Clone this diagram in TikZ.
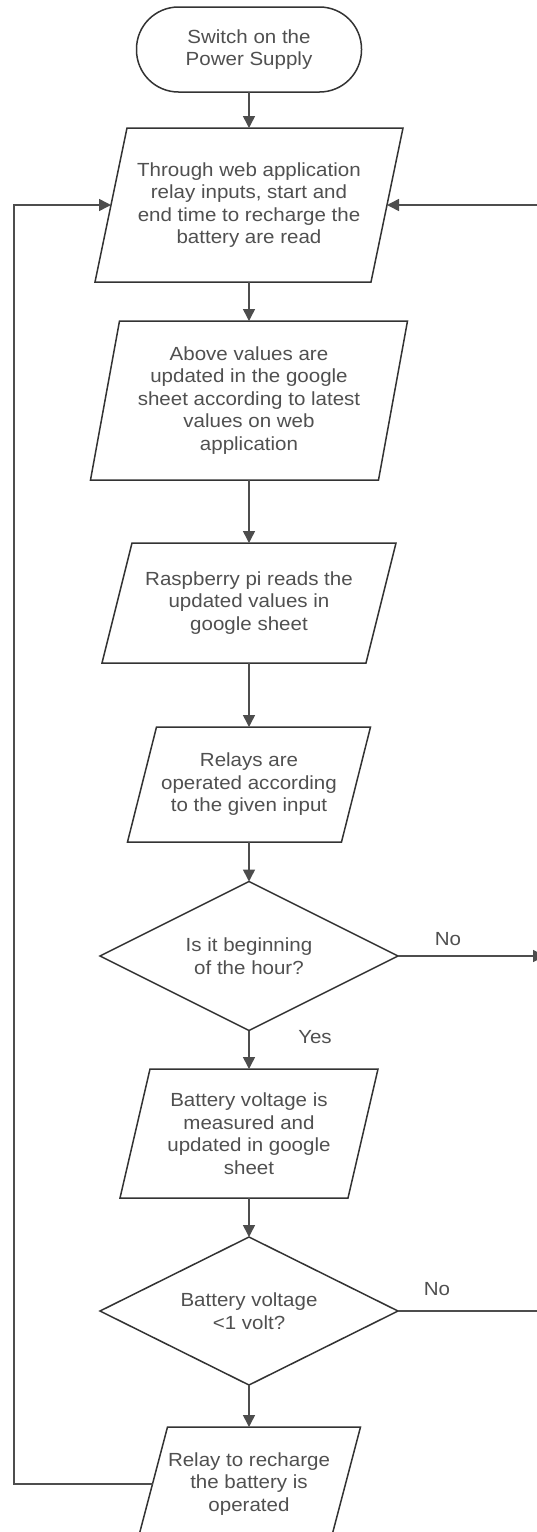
\documentclass[tikz,border=0pt]{standalone}
\usepackage{fontspec}
\setmainfont{Liberation Sans}[FakeStretch=1.08]
\usetikzlibrary{arrows.meta,calc}
\definecolor{txtc}{HTML}{505050}
\definecolor{shpc}{HTML}{333333}
\definecolor{linc}{HTML}{4D4D4D}
\tikzset{
  txt/.style={inner sep=0pt, outer sep=0pt, align=center, text=txtc, font=\fontsize{19}{22.5}\selectfont},
  shp/.style={draw=shpc, line width=1.5pt, line join=miter},
  conn/.style={draw=linc, line width=1.5pt, -{Triangle[length=12pt,width=12pt]}},
  lbl/.style={text=txtc, font=\fontsize{19}{22.5}\selectfont, inner sep=0pt},
}
% parallelogram: name, cx, cy, width, height, slant, text
\newcommand\pgram[7]{%
  \node[txt, minimum width=#4pt, minimum height=#5pt] (#1) at (#2,#3) {#7};
  \draw[shp] ([xshift=0.5*#6pt]#1.north west) -- ([xshift=0.5*#6pt]#1.north east)
    -- ([xshift=-0.5*#6pt]#1.south east) -- ([xshift=-0.5*#6pt]#1.south west) -- cycle;}
% diamond: name, cx, cy, width, height, text
\newcommand\dmd[6]{%
  \node[txt, minimum width=#4pt, minimum height=#5pt] (#1) at (#2,#3) {#6};
  \draw[shp] (#1.north) -- (#1.east) -- (#1.south) -- (#1.west) -- cycle;}
\begin{document}
\begin{tikzpicture}[x=1pt,y=-1pt]
\useasboundingbox (0,0) rectangle (537,1532);
\clip (0,0) rectangle (537,1532);
\fill[white] (0,0) rectangle (537,1532);

\node[txt, draw=shpc, line width=1.5pt, rounded corners=42pt,
      minimum width=225pt, minimum height=85pt] (t) at (249,49.5) {Switch on the\\Power Supply};

\pgram{p1}{249}{205}{276}{154}{32}{Through web application\\relay inputs, start and\\end time to recharge the\\battery are read}
\pgram{p2}{249}{400.5}{288}{159}{29}{Above values are\\updated in the google\\sheet according to latest\\values on web\\application}
\pgram{p3}{249}{603}{264}{120}{30}{Raspberry pi reads the\\updated values in\\google sheet}
\pgram{p4}{249}{784.5}{214}{115}{29}{Relays are\\operated according\\to the given input}
\dmd{d1}{249}{956}{298}{149}{Is it beginning\\of the hour?}
\pgram{p5}{249}{1133.5}{228}{129}{30}{Battery voltage is\\measured and\\updated in google\\sheet}
\dmd{d2}{249}{1311}{298}{148}{Battery voltage\\<1 volt?}
\pgram{p6}{249}{1484}{193}{114}{30}{Relay to recharge\\the battery is\\operated}

\coordinate (r1) at (545,956);
\coordinate (r2) at (545,1311);
\coordinate (r3) at (545,205);
\coordinate (l1) at (14,1484);
\coordinate (l2) at (14,205);

\draw[conn] (t.south) -- (p1.north);
\draw[conn] (p1.south) -- (p2.north);
\draw[conn] (p2.south) -- (p3.north);
\draw[conn] (p3.south) -- (p4.north);
\draw[conn] (p4.south) -- (d1.north);
\draw[conn] (d1.south) -- (p5.north);
\draw[conn] (p5.south) -- (d2.north);
\draw[conn] (d2.south) -- (p6.north);
\draw[conn] (d1.east) -- (r1);
\draw[conn] (d2.east) -- (r2) -- (r3) -- (p1.east);
\draw[conn] (p6.west) -- (l1) -- (l2) -- (p1.west);

\node[lbl] (no1) at (448,939) {No};
\node[lbl] (yes1) at (315,1037) {Yes};
\node[lbl] (no2) at (437,1289) {No};
\end{tikzpicture}
\end{document}
